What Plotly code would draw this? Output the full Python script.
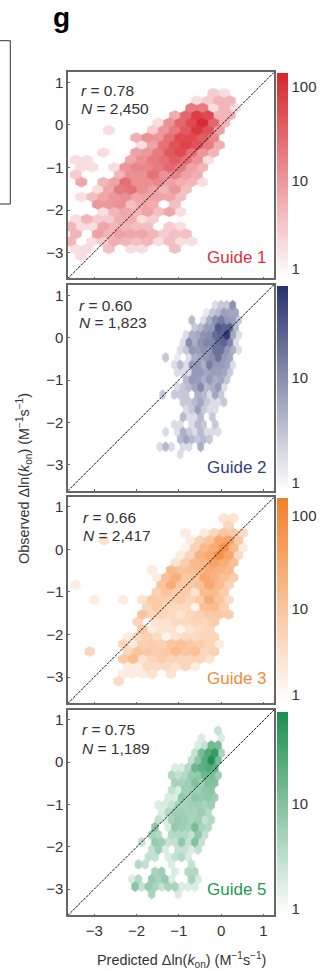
import math
import plotly.graph_objects as go

WIDTH, HEIGHT = 329, 971
TICKS = [-3, -2, -1, 0, 1]
FONT = "Liberation Sans, Arial, sans-serif"
INK = "#333333"

GUIDE_NAMES = ["Guide 1", "Guide 2", "Guide 3", "Guide 5"]
GUIDE_R = ["0.78", "0.60", "0.66", "0.75"]
GUIDE_N = ["2,450", "1,823", "2,417", "1,189"]
GUIDE_COLORS = ["#d7252c", "#27336e", "#f47f2a", "#1c8f4e"]
LABEL_COLORS = ["#e0303a", "#2f3f7d", "#f58a3c", "#1f9a50"]

# Observed/predicted bins: {row: {column: count}}
GUIDE1_CELLS = {
    0: {10: 3, 11: 2},
    1: {8: 2, 9: 3, 10: 5, 11: 5},
    2: {8: 20, 9: 20, 10: 2, 11: 5, 12: 2},
    3: {6: 6, 7: 30, 8: 80, 9: 60, 10: 5, 11: 5},
    4: {5: 2, 6: 12, 7: 30, 8: 60, 9: 120, 10: 30, 11: 5},
    5: {0: 2, 4: 3, 5: 10, 6: 20, 7: 40, 8: 90, 9: 50, 10: 8},
    6: {3: 6, 4: 12, 5: 10, 6: 25, 7: 60, 8: 60, 9: 40, 10: 15},
    7: {3: 2, 4: 8, 5: 25, 6: 50, 7: 70, 8: 50, 9: 20, 10: 6},
    8: {0: 2, 3: 8, 4: 10, 5: 20, 6: 40, 7: 60, 8: 25, 9: 10, 10: 5},
    9: {-3: 2, -2: 2, 2: 7, 3: 12, 4: 20, 5: 25, 6: 40, 7: 25, 8: 12, 9: 2},
    10: {-2: 2, -1: 2, 1: 2, 2: 10, 3: 15, 4: 15, 5: 20, 6: 30, 7: 20, 8: 8, 9: 5},
    11: {-3: 3, 1: 5, 2: 12, 3: 12, 4: 25, 5: 12, 6: 15, 7: 8, 8: 6},
    12: {-2: 7, 0: 5, 1: 8, 2: 25, 3: 12, 4: 12, 5: 15, 6: 8, 7: 6, 8: 5, 9: 2},
    13: {-1: 2, 0: 7, 1: 20, 2: 25, 3: 12, 4: 8, 5: 5, 6: 10, 7: 4},
    14: {-2: 2, -1: 4, 0: 7, 1: 10, 2: 12, 3: 7, 4: 8, 5: 8, 6: 7, 7: 4},
    15: {-1: 10, 0: 10, 1: 12, 2: 4, 3: 7, 4: 6, 6: 4},
    16: {0: 2, 1: 5, 2: 7, 3: 5, 4: 8, 5: 4, 6: 7, 7: 2},
    17: {-3: 2, -2: 5, -1: 3, 0: 3, 1: 6, 2: 6, 3: 2, 4: 3},
    18: {-3: 5, -2: 2, -1: 2, 0: 7, 1: 5, 2: 5, 3: 4, 4: 4, 6: 3, 7: 2},
    19: {-3: 5, -1: 8, 0: 5, 1: 8, 2: 7, 3: 7, 4: 5, 5: 3, 6: 4, 7: 4},
    20: {-3: 5, -1: 2, 0: 3, 1: 6, 2: 5, 3: 4, 4: 5, 5: 2, 6: 4, 7: 2, 8: 2},
    21: {-3: 2, -2: 2, 0: 4, 2: 2, 3: 2, 6: 4},
    22: {-2: 2},
}
GUIDE2_CELLS = {
    0: {9: 2, 10: 3, 11: 3, 12: 9},
    1: {7: 1.5, 8: 3, 9: 4, 10: 7, 11: 6, 12: 6},
    2: {5: 4, 7: 2, 8: 5, 9: 10, 10: 14, 11: 8, 12: 7, 13: 3},
    3: {5: 3, 6: 4, 7: 7, 8: 8, 9: 30, 10: 25, 11: 25, 12: 4},
    4: {4: 2, 5: 5, 6: 6, 7: 9, 8: 10, 9: 20, 10: 25, 11: 55, 12: 6, 13: 2},
    5: {3: 2, 4: 10, 5: 5, 6: 9, 7: 12, 8: 12, 9: 20, 10: 25, 11: 12, 12: 2},
    6: {3: 2, 4: 3, 5: 8, 6: 7, 7: 9, 8: 8, 9: 18, 10: 18, 11: 8, 12: 5, 13: 2},
    7: {0: 3, 2: 1.5, 4: 2, 5: 5, 6: 6, 7: 8, 8: 10, 9: 18, 10: 8, 11: 6},
    8: {2: 2, 3: 4, 4: 2, 5: 8, 6: 8, 7: 5, 8: 14, 9: 8, 10: 8, 11: 6, 12: 2},
    9: {2: 2, 3: 2, 4: 2, 5: 8, 6: 8, 7: 6, 8: 7, 9: 7, 10: 6, 11: 3},
    10: {4: 4, 5: 8, 6: 7, 7: 5, 8: 8, 9: 5, 10: 6, 11: 3},
    11: {2: 2, 3: 3, 4: 4, 5: 6, 6: 11, 7: 4, 8: 5, 9: 8, 10: 2},
    12: {0: 3, 2: 3, 3: 3, 4: 3, 6: 5, 7: 4, 8: 2, 9: 6, 10: 3},
    13: {3: 3, 4: 3, 5: 4, 6: 6, 7: 3, 8: 2, 9: 2, 10: 3},
    14: {4: 2, 5: 3, 6: 7, 7: 3, 8: 2, 9: 2},
    15: {3: 4, 4: 2, 5: 2, 6: 4, 8: 3},
    16: {2: 2, 3: 2, 5: 2, 6: 4, 7: 3, 9: 3},
    17: {0: 2, 2: 2, 3: 5, 4: 3, 5: 2, 6: 4, 7: 2, 8: 2, 9: 2},
    18: {3: 4, 4: 6, 5: 4, 6: 3, 7: 4, 8: 3},
    19: {-1: 2, 0: 4, 1: 2, 3: 2, 4: 2, 6: 5},
    20: {3: 2},
}
GUIDE3_CELLS = {
    0: {16: 3, 17: 3},
    1: {16: 5},
    2: {12: 2, 14: 2, 15: 5, 16: 10, 17: 8, 18: 4},
    3: {3: 3, 12: 2, 13: 6, 14: 10, 15: 30, 16: 40, 17: 8},
    4: {12: 1.5, 13: 6, 14: 15, 15: 25, 16: 70, 17: 15, 18: 2},
    5: {11: 2, 12: 5, 13: 20, 14: 30, 15: 80, 16: 30, 17: 4},
    6: {11: 3, 12: 7, 13: 15, 14: 18, 15: 40, 16: 25, 17: 12},
    7: {8: 2, 10: 15, 11: 10, 12: 12, 13: 15, 14: 25, 15: 20, 16: 15},
    8: {9: 2, 10: 12, 11: 22, 12: 8, 13: 10, 14: 30, 15: 20, 16: 12, 17: 7},
    9: {0: 2, 9: 10, 10: 25, 11: 8, 12: 8, 13: 12, 14: 30, 15: 15, 16: 6},
    10: {9: 6, 10: 10, 11: 7, 12: 7, 13: 3, 14: 14, 15: 15, 16: 7},
    11: {2: 2, 5: 2, 7: 3, 8: 8, 9: 7, 10: 6, 11: 7, 12: 5, 13: 7, 14: 25, 15: 10, 16: 4},
    12: {8: 5, 9: 8, 10: 5, 11: 4, 12: 4, 13: 1.5, 14: 12, 15: 14, 16: 6},
    13: {7: 10, 8: 5, 9: 5, 10: 4, 11: 3, 12: 5, 13: 6, 14: 8, 15: 8, 16: 7},
    14: {7: 5, 9: 3, 10: 3, 11: 4, 12: 4, 13: 5, 14: 5, 15: 7},
    15: {7: 8, 8: 2, 9: 3, 10: 3, 11: 1.5, 12: 3, 13: 4, 14: 5},
    16: {6: 2, 7: 4, 8: 6, 9: 4, 10: 1.5, 11: 3, 12: 4, 13: 4, 14: 5, 15: 5},
    17: {5: 5, 6: 2, 7: 6, 8: 7, 9: 6, 10: 10, 11: 12, 12: 8, 13: 7, 14: 5, 15: 2},
    18: {2: 5, 6: 5, 7: 10, 8: 8, 9: 7, 10: 8, 11: 14, 12: 10, 13: 12, 14: 5, 15: 6},
    19: {5: 8, 6: 14, 7: 3, 8: 5, 9: 7, 10: 5, 11: 5, 12: 5, 13: 5, 14: 3},
    20: {6: 2, 7: 2, 8: 4, 9: 4, 10: 4, 11: 3, 12: 5, 13: 2},
    21: {5: 2, 6: 2, 7: 2, 8: 3, 10: 3},
    22: {5: 4},
}
GUIDE5_CELLS = {
    0: {10: 3},
    1: {7: 2, 10: 2},
    2: {7: 2, 8: 3, 9: 14, 10: 12},
    3: {6: 3, 7: 12, 8: 25, 9: 40, 10: 5},
    4: {6: 3, 7: 8, 8: 22, 9: 60, 10: 12},
    5: {3: 2, 4: 2, 5: 4, 6: 15, 7: 20, 8: 25, 9: 20},
    6: {3: 4, 4: 3, 5: 4, 6: 7, 7: 8, 8: 15, 9: 12, 10: 6},
    7: {3: 5, 4: 5, 5: 6, 6: 10, 7: 6, 8: 10, 9: 10},
    8: {3: 3, 4: 2, 5: 6, 6: 6, 7: 6, 8: 8, 9: 9},
    9: {2: 2, 3: 2, 4: 8, 5: 5, 6: 8, 7: 7, 8: 8, 9: 6},
    10: {1: 2, 2: 2, 3: 3, 4: 5, 5: 5, 6: 6, 7: 6, 8: 5, 9: 6},
    11: {1: 2, 2: 4, 3: 6, 4: 6, 5: 5, 6: 5, 7: 6, 8: 4},
    12: {1: 3, 2: 2, 3: 5, 4: 7, 5: 6, 6: 5, 7: 6, 8: 3, 9: 4},
    13: {0: 8, 2: 2, 3: 7, 4: 6, 5: 5, 6: 12, 7: 5, 8: 4},
    14: {0: 5, 1: 4, 3: 4, 4: 4, 5: 4, 6: 3, 7: 8, 8: 3},
    15: {-2: 3, 0: 7, 1: 6, 2: 3, 3: 3, 4: 8, 5: 3, 6: 10, 7: 3},
    16: {0: 3, 1: 6, 2: 2, 4: 3, 5: 3, 6: 2, 7: 3},
    17: {-1: 3, 0: 3, 2: 2, 3: 3, 4: 4, 5: 2},
    18: {-2: 4, -1: 3, 3: 2, 6: 3},
    19: {0: 5, 1: 6, 3: 2, 5: 4, 6: 4},
    20: {-3: 2, -2: 4, 0: 7, 1: 5, 2: 7, 3: 2, 6: 5, 7: 2},
    21: {-3: 9, -2: 3, -1: 7, 0: 5, 1: 3, 2: 5, 3: 5, 4: 2, 5: 2, 6: 2},
    22: {0: 5, 4: 2},
}
GUIDE_CELLS = [GUIDE1_CELLS, GUIDE2_CELLS, GUIDE3_CELLS, GUIDE5_CELLS]

# Bin grid in data units: first column x, first row y, column step, row step
GUIDE_GRID = [
    (-2.787, 0.744, 0.2604, 0.1738),
    (-1.382, 0.773, 0.1381, 0.1763),
    (-3.560, 0.728, 0.2264, 0.1738),
    (-1.643, 0.740, 0.1570, 0.1754),
]
# log10 limits of each colour bar, and where its lowest label sits
GUIDE_LOG_RANGE = [(-0.032, 2.149), (-0.006, 1.821), (-0.010, 2.190), (0.0, 1.830)]
BAR_TICKVALS = [[0.064, 1, 2], [0.071, 1], [0.075, 1, 2], [0.054, 1]]
BAR_TICKTEXT = [["1", "10", "100"], ["1", "10"], ["1", "10", "100"], ["1", "10"]]

# Panel layout in pixels
FRAME_X = (68, 274)
FRAME_Y = [(72.3, 278.3), (284.7, 490.7), (497.3, 703.3), (710, 915.3)]
X_RANGE = (-3.623, 1.2525)
Y_RANGES = [(-3.60, 1.235), (-3.616, 1.26), (-3.617, 1.22), (-3.62, 1.228)]
BAR_Y = [(73, 278.3), (286, 490.7), (498, 703.3), (712, 915.3)]
STAT_POS = [(79, 91, 108.7), (77, 305, 323), (81, 517, 535), (80, 729, 748)]
NAME_Y = [257, 468, 678, 889]


def px(x):
    return x / WIDTH


def py(y):
    return 1 - y / HEIGHT


def blend(color, t):
    t = max(0.0, min(1.0, t))
    rgb = [int(color[i:i + 2], 16) for i in (1, 3, 5)]
    return "rgb(%d,%d,%d)" % tuple(round(255 + (c - 255) * t) for c in rgb)


fig = go.Figure()
annotations = []

for i in range(4):
    suffix = "" if i == 0 else str(i + 1)
    x0, y0, dx, dy = GUIDE_GRID[i]
    lo, hi = GUIDE_LOG_RANGE[i]
    base = GUIDE_COLORS[i]

    groups = {}
    for row, cols in GUIDE_CELLS[i].items():
        for col, count in cols.items():
            cx = x0 + (col + (0.5 if row % 2 else 0)) * dx
            cy = y0 - row * dy
            g = groups.setdefault(count, ([], []))
            g[0].extend([cx, cx + dx / 2, cx + dx / 2, cx, cx - dx / 2, cx - dx / 2, cx, None])
            g[1].extend([cy + 2 * dy / 3, cy + dy / 3, cy - dy / 3, cy - 2 * dy / 3,
                         cy - dy / 3, cy + dy / 3, cy + 2 * dy / 3, None])

    for count, (xs, ys) in sorted(groups.items()):
        c = blend(base, (math.log10(count) - lo) / (hi - lo))
        fig.add_trace(go.Scatter(
            x=xs, y=ys, mode="lines", fill="toself", fillcolor=c,
            line=dict(color=c, width=0.7), hoverinfo="skip", showlegend=False,
            xaxis="x" + suffix, yaxis="y" + suffix))

    fig.add_trace(go.Scatter(
        x=list(X_RANGE), y=list(Y_RANGES[i]), mode="lines",
        line=dict(color="#000000", width=1, dash="2.5px,1.2px"),
        hoverinfo="skip", showlegend=False, xaxis="x" + suffix, yaxis="y" + suffix))

    fig.add_trace(go.Scatter(
        x=[None, None], y=[None, None], mode="markers",
        marker=dict(color=[lo, hi], coloraxis="coloraxis" + suffix, size=1),
        hoverinfo="skip", showlegend=False, xaxis="x" + suffix, yaxis="y" + suffix))

    fy0, fy1 = FRAME_Y[i]
    by0, by1 = BAR_Y[i]
    common = dict(showgrid=False, zeroline=False, mirror=True, showline=True,
                  linecolor="#666666", linewidth=1.5, ticks="inside", ticklen=2,
                  tickwidth=1, tickcolor="#666666", tickvals=TICKS,
                  tickfont=dict(family=FONT, size=15, color=INK))
    fig.update_layout({
        "xaxis" + suffix: dict(common, domain=[px(FRAME_X[0]), px(FRAME_X[1])],
                               range=list(X_RANGE), anchor="y" + suffix,
                               showticklabels=i == 3, ticklabelstandoff=1),
        "yaxis" + suffix: dict(common, domain=[py(fy1), py(fy0)],
                               range=list(Y_RANGES[i]), anchor="x" + suffix),
        "coloraxis" + suffix: dict(
            cmin=lo, cmax=hi,
            colorscale=[[0, "#ffffff"], [1, base]],
            colorbar=dict(
                x=px(277), xanchor="left", xpad=0, ypad=0,
                y=py(by0), yanchor="top", len=by1 - by0, lenmode="pixels",
                thickness=11, thicknessmode="pixels", outlinewidth=0,
                tickmode="array", tickvals=BAR_TICKVALS[i], ticktext=BAR_TICKTEXT[i],
                ticks="outside", ticklen=1, tickcolor="rgba(0,0,0,0)",
                tickfont=dict(family=FONT, size=15, color=INK))),
    })

    sx, sy1, sy2 = STAT_POS[i]
    for text, y in ((f"<i>r</i> = {GUIDE_R[i]}", sy1), (f"<i>N</i> = {GUIDE_N[i]}", sy2)):
        annotations.append(dict(text=text, x=px(sx), y=py(y), xref="paper", yref="paper",
                                xanchor="left", yanchor="middle", showarrow=False,
                                font=dict(family=FONT, size=15.5, color=INK)))
    annotations.append(dict(text=GUIDE_NAMES[i], x=px(268.5), y=py(NAME_Y[i]),
                            xref="paper", yref="paper", xanchor="right", yanchor="middle",
                            showarrow=False,
                            font=dict(family=FONT, size=17, color=LABEL_COLORS[i])))

annotations += [
    dict(text="g", x=px(51), y=py(18), xref="paper", yref="paper", xanchor="left",
         yanchor="middle", showarrow=False,
         font=dict(family=FONT, size=28, color="#000000", weight="bold")),
    dict(text="Predicted Δln(<i>k</i><sub>on</sub>) (M<sup>−1</sup>s<sup>−1</sup>)",
         x=px(181), y=py(960), xref="paper", yref="paper", xanchor="center",
         yanchor="middle", showarrow=False, font=dict(family=FONT, size=14.4, color=INK)),
    dict(text="Observed Δln(<i>k</i><sub>on</sub>) (M<sup>−1</sup>s<sup>−1</sup>)",
         x=px(23.5), y=py(478.5), xref="paper", yref="paper", xanchor="center",
         yanchor="middle", textangle=-90, showarrow=False,
         font=dict(family=FONT, size=14.4, color=INK)),
]

box = dict(type="line", xref="paper", yref="paper", line=dict(color="#333333", width=1))
shapes = [
    dict(box, x0=0, x1=px(10.3), y0=py(40.7), y1=py(40.7)),
    dict(box, x0=px(10.3), x1=px(10.3), y0=py(40.7), y1=py(204)),
    dict(box, x0=0, x1=px(10.3), y0=py(204), y1=py(204)),
]

fig.update_layout(
    width=WIDTH, height=HEIGHT, autosize=False,
    margin=dict(l=0, r=0, t=0, b=0),
    paper_bgcolor="white", plot_bgcolor="white",
    font=dict(family=FONT, color=INK),
    annotations=annotations, shapes=shapes, showlegend=False,
)

fig.write_html("out.html", config={"displayModeBar": False},
               post_script="document.body.style.margin='0';")
